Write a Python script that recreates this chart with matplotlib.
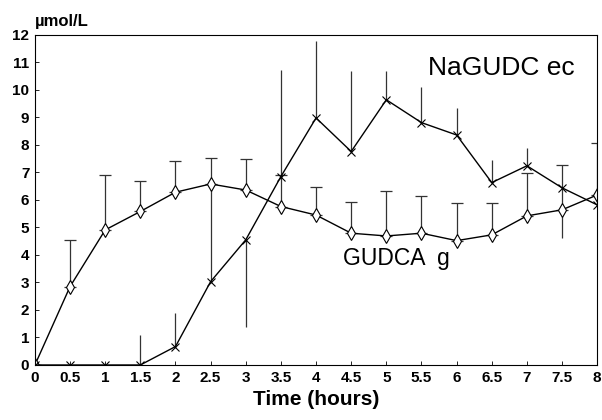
import matplotlib
matplotlib.use('Agg')
import matplotlib.pyplot as plt
import numpy as np

plt.rcParams['font.family'] = ['Liberation Sans', 'DejaVu Sans']

# time points (hours)
hours = [0, 0.5, 1, 1.5, 2, 2.5, 3, 3.5, 4, 4.5, 5, 5.5, 6, 6.5, 7, 7.5, 8]

# GUDCA g (diamonds), with error bar tips
gudca = [0, 2.85, 4.91, 5.58, 6.28, 6.58, 6.36, 5.76, 5.45, 4.79, 4.69, 4.79, 4.52, 4.73, 5.42, 5.64, 6.18]
gudca_hi = [0, 4.55, 6.9, 6.67, 7.43, 7.51, 7.48, 6.9, 6.46, 5.94, 6.34, 6.16, 5.88, 5.88, 6.99, 7.27, 8.08]
gudca_lo = [0, 2.85, 4.91, 5.58, 6.28, 6.58, 6.36, 5.76, 5.45, 4.79, 4.69, 4.79, 4.52, 4.73, 5.42, 4.6, 6.18]

# NaGUDC ec (crosses), with error bar tips
nagudc = [0, 0, 0, 0, 0.67, 3.03, 4.55, 6.85, 8.98, 7.76, 9.64, 8.81, 8.36, 6.63, 7.24, 6.44, 5.82]
nagudc_hi = [0, 0, 0, 1.09, 1.88, 6.58, 4.55, 10.73, 11.76, 10.67, 10.7, 10.1, 9.35, 7.45, 7.9, 6.44, 5.82]
nagudc_lo = [0, 0, 0, 0, 0.67, 3.03, 1.39, 6.85, 8.98, 7.76, 9.64, 8.81, 8.36, 6.63, 7.24, 6.44, 5.82]

xticks = [0, 0.5, 1, 1.5, 2, 2.5, 3, 3.5, 4, 4.5, 5, 5.5, 6, 6.5, 7, 7.5, 8]
xticklabels = ['0', '0.5', '1', '1.5', '2', '2.5', '3', '3.5', '4', '4.5', '5', '5.5', '6', '6.5', '7', '7.5', '8']

fig = plt.figure(figsize=(6.02, 4.2), dpi=100)
ax = fig.add_axes([0.058, 0.131, 0.934, 0.786])

x = np.array(hours)
g = np.array(gudca)
n = np.array(nagudc)
zero = np.zeros_like(g)

# error bars: NaGUDC without caps, GUDCA capped on top only
n_err = [n - np.array(nagudc_lo), np.array(nagudc_hi) - n]
ax.errorbar(x, n, yerr=n_err, fmt='none', ecolor='#333333', elinewidth=0.9, capsize=0)
ax.errorbar(x, g, yerr=[zero, np.array(gudca_hi) - g], fmt='none', ecolor='#333333',
            elinewidth=0.9, capsize=4, capthick=0.9)
ax.errorbar(x, g, yerr=[g - np.array(gudca_lo), zero], fmt='none', ecolor='#333333',
            elinewidth=0.9, capsize=0)

ax.plot(x, g, color='black', lw=1.0, marker='d', ms=7, mfc='white', mec='black', mew=0.8)
ax.plot(x, n, color='black', lw=1.0, marker='x', ms=6, mec='black', mew=0.8)

ax.text(5.59, 10.55, 'NaGUDC ec', fontsize=19, ha='left', va='baseline')
ax.text(4.38, 3.64, 'GUDCA  g', fontsize=16.5, ha='left', va='baseline')

ax.set_xlim(0, 8)
ax.set_ylim(0, 12)
ax.set_xticks(xticks)
ax.set_xticklabels(xticklabels)
ax.set_yticks(range(0, 13))
ax.tick_params(direction='in', length=3, width=0.6, labelsize=11, pad=4)
for lab in ax.get_xticklabels() + ax.get_yticklabels():
    lab.set_fontweight('bold')
for sp in ax.spines.values():
    sp.set_linewidth(0.8)

ax.set_xlabel('Time (hours)', fontsize=15, fontweight='bold', labelpad=4)
fig.text(35 / 602, 1 - 26 / 420, 'µmol/L', fontsize=12, fontweight='bold', ha='left', va='baseline')

fig.savefig('out.png', dpi=100)
